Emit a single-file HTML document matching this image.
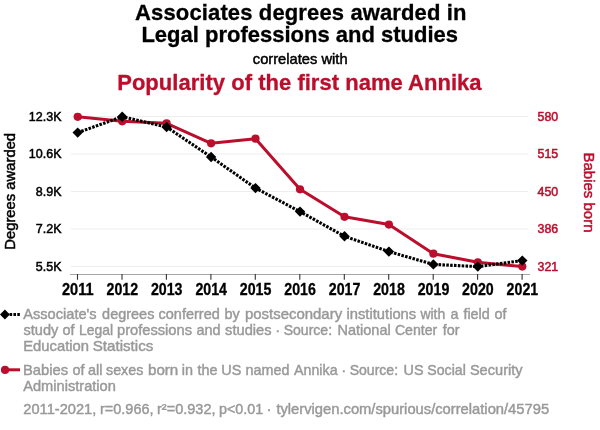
<!DOCTYPE html>
<html><head><meta charset="utf-8"><title>Spurious correlation</title>
<style>html,body{margin:0;padding:0;background:#fff;}svg{display:block;font-family:"Liberation Sans",sans-serif;}</style></head>
<body>
<svg width="600" height="430" viewBox="0 0 600 430">
<rect width="600" height="430" fill="#fff"/>
<text x="300.8" y="19.5" text-anchor="middle" font-size="22" font-weight="bold" fill="#000" stroke="#000" stroke-width="0.3" textLength="331.4">Associates degrees awarded in</text>
<text x="299.7" y="41.5" text-anchor="middle" font-size="22" font-weight="bold" fill="#000" stroke="#000" stroke-width="0.3">Legal professions and studies</text>
<text x="300.2" y="63.8" text-anchor="middle" font-size="15" fill="#000" stroke="#000" stroke-width="0.5" textLength="94.8" lengthAdjust="spacingAndGlyphs">correlates with</text>
<text x="299.4" y="89.8" text-anchor="middle" font-size="22" font-weight="bold" fill="#bb0e2c" stroke="#bb0e2c" stroke-width="0.3" textLength="364.4">Popularity of the first name Annika</text>
<g stroke="#ededed" stroke-width="1">
<line x1="71" x2="528" y1="116.5" y2="116.5"/>
<line x1="71" x2="528" y1="154" y2="154"/>
<line x1="71" x2="528" y1="191.5" y2="191.5"/>
<line x1="71" x2="528" y1="229" y2="229"/>
<line x1="71" x2="528" y1="266.5" y2="266.5"/>
</g>
<line x1="70" x2="530" y1="274.5" y2="274.5" stroke="#a6a6a6" stroke-width="1"/>
<g stroke="#333" stroke-width="1.1">
<line x1="77.5" x2="77.5" y1="274" y2="279.8"/>
<line x1="122.0" x2="122.0" y1="274" y2="279.8"/>
<line x1="166.4" x2="166.4" y1="274" y2="279.8"/>
<line x1="210.9" x2="210.9" y1="274" y2="279.8"/>
<line x1="255.3" x2="255.3" y1="274" y2="279.8"/>
<line x1="299.8" x2="299.8" y1="274" y2="279.8"/>
<line x1="344.3" x2="344.3" y1="274" y2="279.8"/>
<line x1="388.7" x2="388.7" y1="274" y2="279.8"/>
<line x1="433.2" x2="433.2" y1="274" y2="279.8"/>
<line x1="477.6" x2="477.6" y1="274" y2="279.8"/>
<line x1="522.1" x2="522.1" y1="274" y2="279.8"/>
</g>
<g font-size="12.5" fill="#000" stroke="#000" stroke-width="0.5" text-anchor="end">
<text x="61.5" y="120.9">12.3K</text>
<text x="61.5" y="158.4">10.6K</text>
<text x="61.5" y="195.9">8.9K</text>
<text x="61.5" y="233.4">7.2K</text>
<text x="61.5" y="270.9">5.5K</text>
</g>
<text transform="translate(15,191.3) rotate(-90)" text-anchor="middle" font-size="14.8" fill="#000" stroke="#000" stroke-width="0.5">Degrees awarded</text>
<g font-size="12.4" fill="#bb0e2c" stroke="#bb0e2c" stroke-width="0.5" text-anchor="start">
<text x="537.5" y="120.9">580</text>
<text x="537.5" y="158.4">515</text>
<text x="537.5" y="195.9">450</text>
<text x="537.5" y="233.4">386</text>
<text x="537.5" y="270.9">321</text>
</g>
<text transform="translate(584,192.5) rotate(90)" text-anchor="middle" font-size="15" fill="#bb0e2c" stroke="#bb0e2c" stroke-width="0.5">Babies born</text>
<g font-size="15.6" font-weight="bold" fill="#000" stroke="#000" stroke-width="0.3" text-anchor="middle">
<text x="77.8" y="295" textLength="31.6" lengthAdjust="spacingAndGlyphs">2011</text>
<text x="122.3" y="295" textLength="31.6" lengthAdjust="spacingAndGlyphs">2012</text>
<text x="166.7" y="295" textLength="31.6" lengthAdjust="spacingAndGlyphs">2013</text>
<text x="211.2" y="295" textLength="31.6" lengthAdjust="spacingAndGlyphs">2014</text>
<text x="255.6" y="295" textLength="31.6" lengthAdjust="spacingAndGlyphs">2015</text>
<text x="300.1" y="295" textLength="31.6" lengthAdjust="spacingAndGlyphs">2016</text>
<text x="344.6" y="295" textLength="31.6" lengthAdjust="spacingAndGlyphs">2017</text>
<text x="389.0" y="295" textLength="31.6" lengthAdjust="spacingAndGlyphs">2018</text>
<text x="433.5" y="295" textLength="31.6" lengthAdjust="spacingAndGlyphs">2019</text>
<text x="477.9" y="295" textLength="31.6" lengthAdjust="spacingAndGlyphs">2020</text>
<text x="522.4" y="295" textLength="31.6" lengthAdjust="spacingAndGlyphs">2021</text>
</g>
<polyline fill="none" stroke="#bb0e2c" stroke-width="3" stroke-linejoin="round" points="77.7,116.8 122.2,121.3 166.6,123.3 211.1,143.3 255.5,138.7 300.0,189.3 344.5,216.8 388.9,224.6 433.4,253.7 477.8,262.3 522.3,266.6"/>
<g fill="#bb0e2c">
<circle cx="77.7" cy="116.8" r="4.1"/>
<circle cx="122.2" cy="121.3" r="4.1"/>
<circle cx="166.6" cy="123.3" r="4.1"/>
<circle cx="211.1" cy="143.3" r="4.1"/>
<circle cx="255.5" cy="138.7" r="4.1"/>
<circle cx="300.0" cy="189.3" r="4.1"/>
<circle cx="344.5" cy="216.8" r="4.1"/>
<circle cx="388.9" cy="224.6" r="4.1"/>
<circle cx="433.4" cy="253.7" r="4.1"/>
<circle cx="477.8" cy="262.3" r="4.1"/>
<circle cx="522.3" cy="266.6" r="4.1"/>
</g>
<polyline fill="none" stroke="#000" stroke-width="3.1" stroke-dasharray="2.55 1.3" points="77.7,132.6 122.2,116.7 166.6,127.0 211.1,157.0 255.5,188.1 300.0,211.6 344.5,236.3 388.9,251.6 433.4,264.4 477.8,266.6 522.3,260.6"/>
<g fill="#000">
<path d="M77.7 127.4l5.2 5.2-5.2 5.2-5.2-5.2z"/>
<path d="M122.2 111.5l5.2 5.2-5.2 5.2-5.2-5.2z"/>
<path d="M166.6 121.8l5.2 5.2-5.2 5.2-5.2-5.2z"/>
<path d="M211.1 151.8l5.2 5.2-5.2 5.2-5.2-5.2z"/>
<path d="M255.5 182.9l5.2 5.2-5.2 5.2-5.2-5.2z"/>
<path d="M300.0 206.4l5.2 5.2-5.2 5.2-5.2-5.2z"/>
<path d="M344.5 231.1l5.2 5.2-5.2 5.2-5.2-5.2z"/>
<path d="M388.9 246.4l5.2 5.2-5.2 5.2-5.2-5.2z"/>
<path d="M433.4 259.2l5.2 5.2-5.2 5.2-5.2-5.2z"/>
<path d="M477.8 261.4l5.2 5.2-5.2 5.2-5.2-5.2z"/>
<path d="M522.3 255.4l5.2 5.2-5.2 5.2-5.2-5.2z"/>
</g>
<line x1="1.9" x2="20" y1="314.5" y2="314.5" stroke="#000" stroke-width="3" stroke-dasharray="2.55 1.3"/>
<path d="M4.9 309.4l4.9 5.1-4.9 5.1-4.9-5.1z" fill="#000"/>
<line x1="5" x2="20" y1="369.8" y2="369.8" stroke="#bb0e2c" stroke-width="3"/>
<circle cx="5.05" cy="369.9" r="4.1" fill="#bb0e2c"/>
<g font-size="15" fill="#999" stroke="#999" stroke-width="0.45">
<text y="319"><tspan x="23.2" textLength="73.5" lengthAdjust="spacingAndGlyphs">Associate's</tspan> <tspan x="102.1" textLength="52.3" lengthAdjust="spacingAndGlyphs">degrees</tspan> <tspan x="158.5" textLength="61.3" lengthAdjust="spacingAndGlyphs">conferred</tspan> <tspan x="224.4" textLength="15.2" lengthAdjust="spacingAndGlyphs">by</tspan> <tspan x="245.0" textLength="97.1" lengthAdjust="spacingAndGlyphs">postsecondary</tspan> <tspan x="346.5" textLength="69.7" lengthAdjust="spacingAndGlyphs">institutions</tspan> <tspan x="420.4" textLength="24.8" lengthAdjust="spacingAndGlyphs">with</tspan> <tspan x="450.5" textLength="8.0" lengthAdjust="spacingAndGlyphs">a</tspan> <tspan x="463.4" textLength="26.4" lengthAdjust="spacingAndGlyphs">field</tspan> <tspan x="494.5" textLength="12.0" lengthAdjust="spacingAndGlyphs">of</tspan></text>
<text y="335"><tspan x="23.5" textLength="34.8" lengthAdjust="spacingAndGlyphs">study</tspan> <tspan x="62.5" textLength="12.0" lengthAdjust="spacingAndGlyphs">of</tspan> <tspan x="79.1" textLength="34.1" lengthAdjust="spacingAndGlyphs">Legal</tspan> <tspan x="117.0" textLength="75.0" lengthAdjust="spacingAndGlyphs">professions</tspan> <tspan x="196.5" textLength="24.0" lengthAdjust="spacingAndGlyphs">and</tspan> <tspan x="225.1" textLength="46.4" lengthAdjust="spacingAndGlyphs">studies</tspan> <tspan x="275.2" textLength="5.0" lengthAdjust="spacingAndGlyphs">·</tspan> <tspan x="283.7" textLength="48.4" lengthAdjust="spacingAndGlyphs">Source:</tspan> <tspan x="337.5" textLength="53.2" lengthAdjust="spacingAndGlyphs">National</tspan> <tspan x="394.9" textLength="42.4" lengthAdjust="spacingAndGlyphs">Center</tspan> <tspan x="442.8" textLength="16.8" lengthAdjust="spacingAndGlyphs">for</tspan></text>
<text y="350.5"><tspan x="23.2" textLength="65.8" lengthAdjust="spacingAndGlyphs">Education</tspan> <tspan x="92.7" textLength="60.6" lengthAdjust="spacingAndGlyphs">Statistics</tspan></text>
<text y="375"><tspan x="23.0" textLength="45.2" lengthAdjust="spacingAndGlyphs">Babies</tspan> <tspan x="72.5" textLength="12.0" lengthAdjust="spacingAndGlyphs">of</tspan> <tspan x="88.1" textLength="14.4" lengthAdjust="spacingAndGlyphs">all</tspan> <tspan x="106.0" textLength="37.4" lengthAdjust="spacingAndGlyphs">sexes</tspan> <tspan x="148.0" textLength="30.3" lengthAdjust="spacingAndGlyphs">born</tspan> <tspan x="181.7" textLength="11.2" lengthAdjust="spacingAndGlyphs">in</tspan> <tspan x="197.5" textLength="20.0" lengthAdjust="spacingAndGlyphs">the</tspan> <tspan x="221.3" textLength="20.0" lengthAdjust="spacingAndGlyphs">US</tspan> <tspan x="245.6" textLength="43.8" lengthAdjust="spacingAndGlyphs">named</tspan> <tspan x="294.0" textLength="43.6" lengthAdjust="spacingAndGlyphs">Annika</tspan> <tspan x="341.2" textLength="5.0" lengthAdjust="spacingAndGlyphs">·</tspan> <tspan x="349.7" textLength="48.4" lengthAdjust="spacingAndGlyphs">Source:</tspan> <tspan x="403.5" textLength="20.0" lengthAdjust="spacingAndGlyphs">US</tspan> <tspan x="427.3" textLength="38.5" lengthAdjust="spacingAndGlyphs">Social</tspan> <tspan x="469.9" textLength="52.7" lengthAdjust="spacingAndGlyphs">Security</tspan></text>
<text y="390.5"><tspan x="23.2" textLength="92.7" lengthAdjust="spacingAndGlyphs">Administration</tspan></text>
<text y="413.5"><tspan x="23.3" textLength="73.0" lengthAdjust="spacingAndGlyphs">2011-2021,</tspan> <tspan x="100.0" textLength="53.5" lengthAdjust="spacingAndGlyphs">r=0.966,</tspan> <tspan x="157.0" textLength="58.5" lengthAdjust="spacingAndGlyphs">r²=0.932,</tspan> <tspan x="219.0" textLength="44.1" lengthAdjust="spacingAndGlyphs">p&lt;0.01</tspan> <tspan x="266.6" textLength="5.0" lengthAdjust="spacingAndGlyphs">·</tspan> <tspan x="276.4" textLength="272.7" lengthAdjust="spacingAndGlyphs">tylervigen.com/spurious/correlation/45795</tspan></text>
</g>
</svg>
</body></html>
